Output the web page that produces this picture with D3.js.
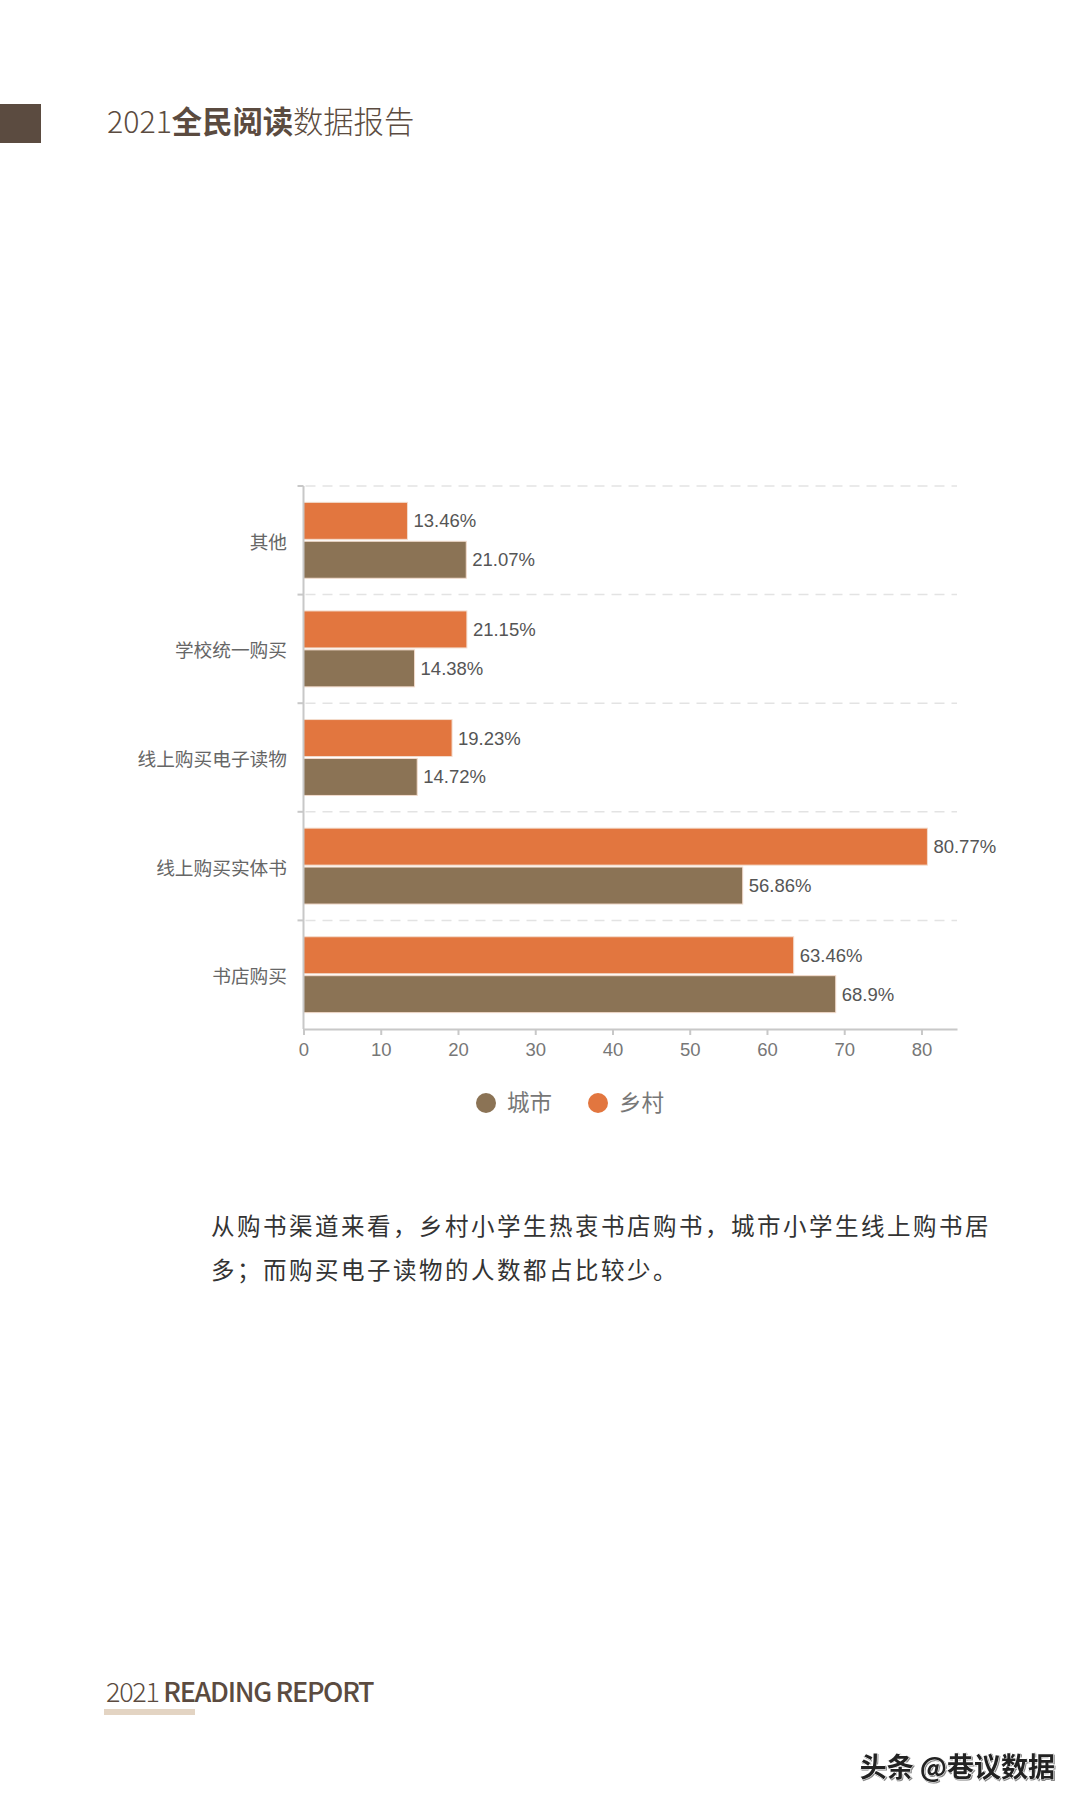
<!DOCTYPE html>
<html>
<head>
<meta charset="utf-8">
<script src="https://cdn.jsdelivr.net/npm/d3@7"></script>
<style>
  body { margin: 0; background: #fff; }
  svg { display: block; }
</style>
</head>
<body>
<script>
/* global d3 */

// Data
const categories = ['其他', '学校统一购买', '线上购买电子读物', '线上购买实体书', '书店购买'];
const seriesNames = ['乡村', '城市'];
const ruralValues = [13.46, 21.15, 19.23, 80.77, 63.46];
const cityValues = [21.07, 14.38, 14.72, 56.86, 68.9];
const valueLabels = { '乡村': ['13.46%', '21.15%', '19.23%', '80.77%', '63.46%'],
                      '城市': ['21.07%', '14.38%', '14.72%', '56.86%', '68.9%'] };
const xTicks = [0, 10, 20, 30, 40, 50, 60, 70, 80];
const legendOrder = ['城市', '乡村'];

const colors = { '城市': '#8b7355', '乡村': '#e2763f' };
const valuesBySeries = { '乡村': ruralValues, '城市': cityValues };

// SVG parameters
const svgWidth = 1080;
const svgHeight = 1808;
const plotLeft = 303.5;
const plotRight = 957;
const plotTop = 486;
const plotBottom = 1029;
const dark = '#5b4b40';

const svg = d3.select('body')
.append('svg')
.attr('width', svgWidth)
.attr('height', svgHeight);

svg.append('rect').attr('width', svgWidth).attr('height', svgHeight).attr('fill', '#fff');

// Header
svg.append('rect')
.attr('x', 0).attr('y', 104).attr('width', 41).attr('height', 39)
.attr('fill', dark);

const title = svg.append('text')
.attr('x', 107).attr('y', 133)
.attr('font-family', '"Noto Sans CJK SC", sans-serif')
.attr('font-size', 30.3)
.attr('fill', dark);
title.append('tspan').attr('font-weight', 300).text('2021');
title.append('tspan').attr('font-weight', 700).text('全民阅读');
title.append('tspan').attr('font-weight', 300).text('数据报告');

// Scaling
const xScale = d3.scaleLinear()
.domain([0, 84.6])
.range([plotLeft, plotRight]);

const yScale = d3.scaleBand()
.domain(categories)
.range([plotTop, plotBottom]);

const innerScale = d3.scaleBand()
.domain(seriesNames)
.range([0, yScale.bandwidth()])
.paddingInner(0.05)
.paddingOuter(0.42);

// Gridlines
svg.append('g')
.selectAll('line')
.data(categories)
.enter()
.append('line')
.attr('x1', plotLeft + 2)
.attr('x2', plotRight)
.attr('y1', d => yScale(d))
.attr('y2', d => yScale(d))
.attr('stroke', '#e3e3e3')
.attr('stroke-width', 1.5)
.attr('stroke-dasharray', '10,7');

// Bars
const groups = svg.append('g')
.selectAll('g')
.data(categories)
.enter()
.append('g')
.attr('transform', d => `translate(0, ${yScale(d)})`);

const rowData = (d, i) => seriesNames.map(s => ({ s, v: valuesBySeries[s][i], label: valueLabels[s][i] }));

groups.selectAll('rect')
.data(rowData)
.enter()
.append('rect')
.attr('x', xScale(0))
.attr('y', d => innerScale(d.s))
.attr('width', d => xScale(d.v) - xScale(0))
.attr('height', innerScale.bandwidth())
.attr('fill', d => colors[d.s])
.attr('stroke', '#f3dccd')
.attr('stroke-width', 1);

groups.selectAll('text')
.data(rowData)
.enter()
.append('text')
.attr('x', d => xScale(d.v) + 6)
.attr('y', d => innerScale(d.s) + innerScale.bandwidth() / 2)
.attr('dy', '0.35em')
.attr('font-family', '"Liberation Sans", Arial, sans-serif')
.attr('font-size', 18.5)
.attr('fill', '#555')
.text(d => d.label);

// Y axis
const yAxisG = svg.append('g');
yAxisG.append('line')
.attr('x1', plotLeft).attr('x2', plotLeft)
.attr('y1', plotTop).attr('y2', plotBottom)
.attr('stroke', '#c8c8c8').attr('stroke-width', 2);
yAxisG.selectAll('line.tick')
.data(categories)
.enter()
.append('line')
.attr('class', 'tick')
.attr('x1', plotLeft - 6).attr('x2', plotLeft)
.attr('y1', d => yScale(d)).attr('y2', d => yScale(d))
.attr('stroke', '#c8c8c8').attr('stroke-width', 2);
yAxisG.selectAll('text')
.data(categories)
.enter()
.append('text')
.attr('x', 287)
.attr('y', d => yScale(d) + yScale.bandwidth() / 2 + 2)
.attr('dy', '0.35em')
.attr('text-anchor', 'end')
.attr('font-family', '"Noto Sans CJK SC", sans-serif')
.attr('font-size', 18.7)
.attr('fill', '#666')
.text(d => d);

// X axis
const xAxis = d3.axisBottom()
.scale(xScale)
.tickValues(xTicks)
.tickSize(6)
.tickSizeOuter(0)
.tickPadding(8);

const xAxisG = svg.append('g')
.attr('transform', `translate(0, ${plotBottom})`)
.call(xAxis);
xAxisG.select('.domain').attr('stroke', '#c8c8c8').attr('stroke-width', 2);
xAxisG.selectAll('.tick line').attr('stroke', '#c8c8c8').attr('stroke-width', 2);
xAxisG.selectAll('.tick text')
.attr('font-family', '"Liberation Sans", Arial, sans-serif')
.attr('font-size', 18.5)
.attr('fill', '#777');

// Legend
const legendX = [486, 598];
const legend = svg.append('g')
.selectAll('g')
.data(legendOrder)
.enter()
.append('g')
.attr('transform', (d, i) => `translate(${legendX[i]}, 1103)`);
legend.append('circle').attr('r', 10).attr('fill', d => colors[d]);
legend.append('text')
.attr('x', 21)
.attr('dy', '0.35em')
.attr('font-family', '"Noto Sans CJK SC", sans-serif')
.attr('font-size', 22.5)
.attr('fill', '#777')
.text(d => d);

// Paragraph
const paragraph = ['从购书渠道来看，乡村小学生热衷书店购书，城市小学生线上购书居',
                   '多；而购买电子读物的人数都占比较少。'];
svg.append('g')
.selectAll('text')
.data(paragraph)
.enter()
.append('text')
.attr('x', 211)
.attr('y', (d, i) => 1227 + i * 44)
.attr('dy', '0.35em')
.attr('font-family', '"Noto Sans CJK SC", sans-serif')
.attr('font-size', 23.5)
.attr('letter-spacing', 2.5)
.attr('fill', '#333')
.text(d => d);

// Footer
const footer = svg.append('text')
.attr('x', 106).attr('y', 1702)
.attr('font-family', '"Noto Sans CJK SC", sans-serif')
.attr('font-size', 27)
.attr('letter-spacing', -1.3)
.attr('fill', dark);
footer.append('tspan').attr('font-weight', 300).text('2021 ');
footer.append('tspan').attr('font-weight', 500).text('READING REPORT');

svg.append('rect')
.attr('x', 104).attr('y', 1709).attr('width', 91).attr('height', 6)
.attr('fill', '#e3d4c3');

// Watermark
svg.append('text')
.attr('x', 1055).attr('y', 1777)
.attr('text-anchor', 'end')
.attr('font-family', '"Noto Sans CJK SC", sans-serif')
.attr('font-size', 27)
.attr('font-weight', 700)
.attr('fill', '#222')
.attr('stroke', '#fff')
.attr('stroke-width', 1)
.attr('paint-order', 'stroke')
.style('filter', 'drop-shadow(-1px -1px 0 #fff) drop-shadow(1px 1px 0 #888)')
.text('头条 @巷议数据');
</script>
</body>
</html>
